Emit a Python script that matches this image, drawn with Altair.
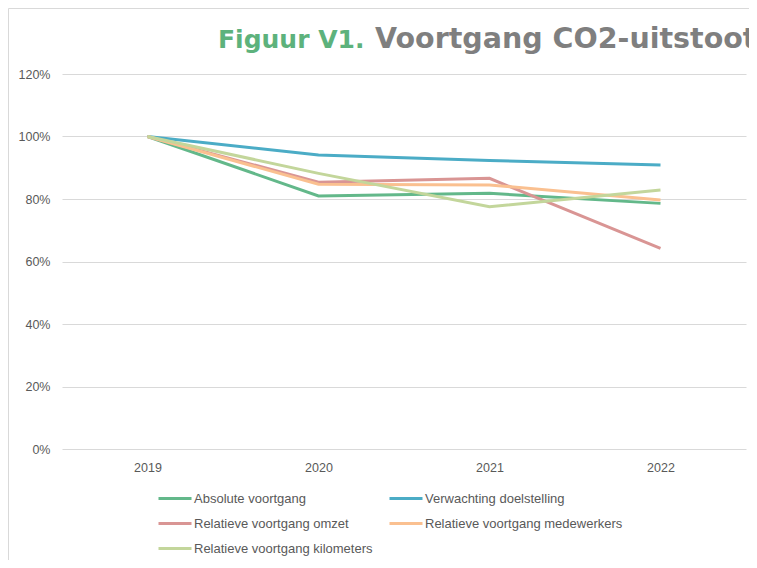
import altair as alt
import pandas as pd

years = ["2019", "2020", "2021", "2022"]
series_names = [
    "Absolute voortgang",
    "Verwachting doelstelling",
    "Relatieve voortgang omzet",
    "Relatieve voortgang medewerkers",
    "Relatieve voortgang kilometers",
]
absolute = [1.00, 0.810, 0.818, 0.786]
verwachting = [1.00, 0.941, 0.923, 0.909]
omzet = [1.00, 0.854, 0.866, 0.642]
medewerkers = [1.00, 0.847, 0.845, 0.797]
kilometers = [1.00, 0.882, 0.775, 0.829]
colors = ["#63b88a", "#4bacc6", "#d99594", "#fac090", "#c3d69b"]

values = [absolute, verwachting, omzet, medewerkers, kilometers]
rows = []
for name, vals in zip(series_names, values):
    for y, v in zip(years, vals):
        rows.append({"Jaar": y, "Serie": name, "Waarde": v})
df = pd.DataFrame(rows)

W, H = 684, 375
font = "Liberation Sans"
txt = "#595959"

lines = alt.Chart(df).mark_line(strokeWidth=3).encode(
    x=alt.X("Jaar:O", scale=alt.Scale(type="point", padding=0.5),
            axis=alt.Axis(title=None, labelAngle=0, domain=False, ticks=False,
                          labelPadding=12, labelFont=font, labelFontSize=12.5,
                          labelColor=txt, grid=False)),
    y=alt.Y("Waarde:Q", scale=alt.Scale(domain=[0, 1.2], nice=False),
            axis=alt.Axis(title=None, format=".0%", values=[0, 0.2, 0.4, 0.6, 0.8, 1.0, 1.2],
                          domain=False, ticks=False, labelPadding=12, labelFont=font,
                          labelFontSize=12.5, labelColor=txt, gridColor="#d9d9d9",
                          gridWidth=1)),
    color=alt.Color("Serie:N", sort=series_names,
                    scale=alt.Scale(domain=series_names, range=colors),
                    legend=alt.Legend(title=None, orient="none", legendX=95, legendY=406.5,
                                      direction="horizontal", columns=2,
                                      symbolType="stroke", symbolSize=1089,
                                      symbolStrokeWidth=3, labelFont=font, labelFontSize=13,
                                      labelColor=txt, labelOffset=1, rowPadding=-4,
                                      columnPadding=10, labelLimit=400)),
)

t1 = alt.Chart(pd.DataFrame({"t": ["Figuur V1."]})).mark_text(
    align="left", baseline="alphabetic", font="DejaVu Sans", fontWeight="bold",
    fontSize=25, color="#5db27c"
).encode(text="t:N", x=alt.value(156), y=alt.value(-26))

t2 = alt.Chart(pd.DataFrame({"t": ["Voortgang CO2-uitstoot"]})).mark_text(
    align="left", baseline="alphabetic", font="DejaVu Sans", fontWeight="bold",
    fontSize=28.5, color="#7f7f7f"
).encode(text="t:N", x=alt.value(313), y=alt.value(-26))

border_left = alt.Chart(pd.DataFrame({"a": [0]})).mark_rule(color="#d9d9d9", strokeWidth=1).encode(
    x=alt.value(-53.5), y=alt.value(-65.5), y2=alt.value(500))
border_top = alt.Chart(pd.DataFrame({"a": [0]})).mark_rule(color="#d9d9d9", strokeWidth=1).encode(
    x=alt.value(-53.5), x2=alt.value(700), y=alt.value(-65.5))

chart = alt.layer(border_left, border_top, lines, t1, t2).properties(
    width=W, height=H,
    background="white",
    autosize=alt.AutoSizeParams(type="none"),
    padding={"left": 54, "top": 66, "right": 3, "bottom": 111},
).configure_view(strokeWidth=0, stroke="transparent")

chart.save("out.html", embed_options={"renderer": "svg", "actions": False})
